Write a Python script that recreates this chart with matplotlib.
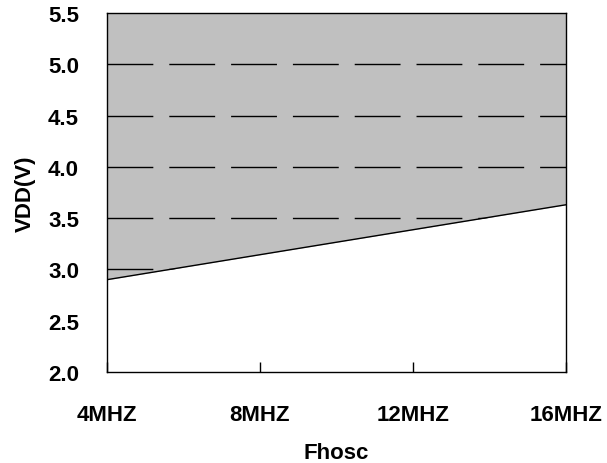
import matplotlib

matplotlib.use("Agg")
import matplotlib.pyplot as plt

plt.rcParams["font.family"] = ["Liberation Sans", "DejaVu Sans"]

freq_mhz = [4, 16]
vdd_min = [2.9, 3.63]
x_ticks = [4, 8, 12, 16]
x_labels = ["4MHZ", "8MHZ", "12MHZ", "16MHZ"]
y_ticks = [2.0, 2.5, 3.0, 3.5, 4.0, 4.5, 5.0, 5.5]
grid_levels = [3.0, 3.5, 4.0, 4.5, 5.0]

fig = plt.figure(figsize=(6.07, 4.64), dpi=100)
ax = fig.add_axes([0.176, 0.196, 0.756, 0.774])
ax.set_facecolor("#c0c0c0")
ax.set_axisbelow(False)

# dashed guide lines; the white fill below the curve hides their lower part
for lvl in grid_levels:
    ax.axhline(lvl, color="black", lw=1.0, dashes=(33, 11.5), zorder=1)

ax.fill_between(freq_mhz, 2.0, vdd_min, color="white", zorder=2, lw=0)
ax.plot(freq_mhz, vdd_min, color="black", lw=1.0, zorder=3)

ax.set_xlim(4, 16)
ax.set_ylim(2.0, 5.5)
ax.set_xticks(x_ticks)
ax.set_xticklabels(x_labels, fontsize=16, fontweight="bold")
ax.set_yticks(y_ticks)
ax.set_yticklabels([f"{v:.1f}" for v in y_ticks], fontsize=16, fontweight="bold")
ax.tick_params(axis="x", direction="in", length=7, width=1, pad=23)
ax.tick_params(axis="y", length=0, pad=20)
for s in ax.spines.values():
    s.set_linewidth(1.0)
    s.set_zorder(4)

ax.set_xlabel("Fhosc", fontsize=16, fontweight="bold", labelpad=12)
ax.set_ylabel("VDD(V)", fontsize=16, fontweight="bold", labelpad=9)

fig.savefig("out.png", dpi=100)
